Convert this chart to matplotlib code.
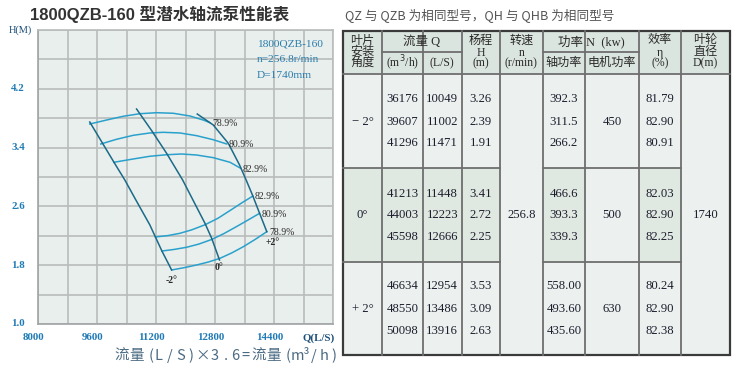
import numpy as np
import matplotlib
matplotlib.use('Agg')
import matplotlib.pyplot as plt
from matplotlib.patches import Rectangle

# ---- chart data ----
# H-Q curves for the three blade angles
hq_labels = ['-2°', '0°', '+2°']
hq_q = [
    [9404, 9730, 10056, 10355, 10654, 11034, 11184, 11360, 11624],
    [10673, 11089, 11488, 11923, 12230, 12528, 12710, 12922],
    [12319, 12754, 13161, 13466, 13656, 13827, 14009, 14205],
]
hq_h = [
    [3.748, 3.476, 3.204, 2.959, 2.687, 2.347, 2.184, 1.993, 1.735],
    [3.925, 3.626, 3.322, 2.959, 2.660, 2.370, 2.166, 1.871],
    [3.857, 3.707, 3.458, 3.163, 2.946, 2.741, 2.506, 2.256],
]
# iso-efficiency arcs
eff_labels = ['78.9%', '80.9%', '82.9%', '82.9%', '80.9%', '78.9%']
eff_q = [
    [9404, 9858, 10309, 10763, 11216, 11667, 12121, 12482, 12664],
    [9703, 10130, 10581, 11034, 11396, 11849, 12303, 12754, 13118],
    [10056, 10581, 11034, 11488, 11896, 12303, 12754, 13208, 13498],
    [11184, 11523, 11849, 12175, 12528, 12882, 13208, 13520, 13827],
    [11360, 11686, 12031, 12365, 12710, 13045, 13390, 13697, 14009],
    [11624, 11958, 12303, 12624, 12936, 13262, 13569, 13887, 14205],
]
eff_h = [
    [3.721, 3.775, 3.826, 3.861, 3.875, 3.867, 3.830, 3.775, 3.739],
    [3.449, 3.513, 3.567, 3.599, 3.608, 3.599, 3.562, 3.507, 3.449],
    [3.200, 3.245, 3.282, 3.303, 3.313, 3.299, 3.263, 3.200, 3.118],
    [2.184, 2.203, 2.234, 2.282, 2.350, 2.439, 2.544, 2.646, 2.741],
    [1.993, 2.014, 2.044, 2.088, 2.150, 2.231, 2.327, 2.415, 2.506],
    [1.735, 1.766, 1.803, 1.844, 1.894, 1.969, 2.052, 2.150, 2.256],
]
x_ticks = [8000, 9600, 11200, 12800, 14400]
y_ticks = [1.0, 1.8, 2.6, 3.4, 4.2]

# ---- table data ----
angles = ['− 2°', '0°', '+ 2°']
flow_m3h = [['36176', '39607', '41296'], ['41213', '44003', '45598'], ['46634', '48550', '50098']]
flow_ls = [['10049', '11002', '11471'], ['11448', '12223', '12666'], ['12954', '13486', '13916']]
head = [['3.26', '2.39', '1.91'], ['3.41', '2.72', '2.25'], ['3.53', '3.09', '2.63']]
speed = '256.8'
shaft_power = [['392.3', '311.5', '266.2'], ['466.6', '393.3', '339.3'], ['558.00', '493.60', '435.60']]
motor_power = ['450', '500', '630']
efficiency = [['81.79', '82.90', '80.91'], ['82.03', '82.90', '82.25'], ['80.24', '82.90', '82.38']]
diameter = '1740'

W, H = 746, 372
fig = plt.figure(figsize=(W / 100, H / 100), dpi=100)
fig.patch.set_facecolor('white')

serif = ['Liberation Serif', 'Noto Sans CJK SC']
cjk = ['Noto Sans CJK SC', 'DejaVu Sans']

def px(x0, y0, w, h):
    return [x0 / W, 1 - (y0 + h) / H, w / W, h / H]

# ---- performance chart ----
ax = fig.add_axes(px(38, 30, 295, 294))
ax.set_facecolor('#e9efed')
ax.set_xlim(8000, 16000)
ax.set_ylim(1.0, 5.0)
ax.set_xticks(np.arange(8000, 16001, 800))
ax.set_yticks(np.arange(1.0, 5.01, 0.4))
ax.tick_params(length=0, labelbottom=False, labelleft=False)
ax.grid(True, color='#b8bcbb', lw=1.2)
ax.set_axisbelow(True)
for s in ax.spines.values():
    s.set_color('#b8bcbb')
    s.set_linewidth(1.2)
ax.spines['left'].set_color('#a0a4a4')
ax.spines['bottom'].set_color('#a0a4a4')

for q, h in zip(eff_q, eff_h):
    ax.plot(q, h, color='#2aa1cc', lw=1.1, solid_joinstyle='round')
for q, h in zip(hq_q, hq_h):
    ax.plot(q, h, color='#1b6a88', lw=1.1, solid_joinstyle='round')

# efficiency labels at right end of each arc
for lab, q, h in zip(eff_labels, eff_q, eff_h):
    ax.annotate(lab, (q[-1], h[-1]), xytext=(1.5, -0.5), textcoords='offset points',
                ha='left', va='center', fontsize=7, family=serif, color='#2a2a2a')
# angle labels under the H-Q curves
for lab, q, h, off in zip(hq_labels, hq_q, hq_h, [(0, -7.5), (0, -5.5), (4, -8)]):
    ax.annotate(lab, (q[-1], h[-1]), xytext=off, textcoords='offset points',
                ha='center', va='center', fontsize=7, family=serif,
                color='#2a2a2a', fontweight='bold')

tick_col = '#1f7ab5'
for v in x_ticks:
    ax.annotate(f'{v}', (v, 0), xycoords=('data', 'axes fraction'), xytext=(-3, -10),
                textcoords='offset points', ha='center', va='center',
                fontsize=7.8, family=serif, color=tick_col, fontweight='bold')
ax.annotate('Q(L/S)', (16000, 0), xycoords=('data', 'axes fraction'), xytext=(-10, -10),
            textcoords='offset points', ha='center', va='center',
            fontsize=7.8, family=serif, color='#1d4f7a', fontweight='bold')
for v in y_ticks:
    ax.annotate(f'{v:.1f}', (0, v), xycoords=('axes fraction', 'data'), xytext=(-9.5, 0),
                textcoords='offset points', ha='right', va='center',
                fontsize=7.8, family=serif, color=tick_col, fontweight='bold')
ax.annotate('H(M)', (0, 5.0), xycoords=('axes fraction', 'data'), xytext=(-4, 0),
            textcoords='offset points', ha='right', va='center',
            fontsize=7.5, family=serif, color='#1d4f7a')

info = ['1800QZB-160', 'n=256.8r/min', 'D=1740mm']
for i, t in enumerate(info):
    fig.text(257 / W, 1 - (44 + 16 * i) / H, t, ha='left', va='center',
             fontsize=8.2, family=serif, color='#2a7cab')

fig.text(30 / W, 1 - 14 / H, '1800QZB-160 型潜水轴流泵性能表', ha='left', va='center',
         fontsize=12, fontweight='bold', family=['Liberation Sans', 'Noto Sans CJK SC'],
         color='#333333')
fig.text(345 / W, 1 - 15 / H, 'QZ 与 QZB 为相同型号，QH 与 QHB 为相同型号',
         ha='left', va='center', fontsize=9.1, family=cjk, color='#555555')

# bottom formula, one glyph at a time so the wide letter spacing matches
formula_chars = ['流', '量', '(', 'L', '/', 'S', ')', '×', '3', '.', '6', '=',
                 '流', '量', '(', 'm³', '/', 'h', ')']
formula_x = [121.5, 136.5, 151, 159, 170, 181, 191, 203, 215, 226, 235, 245,
             258.5, 273.5, 288, 300, 314, 324, 334]
for ch, x0 in zip(formula_chars, formula_x):
    fig.text(x0 / W, 1 - 356 / H, ch, ha='center', va='center', fontsize=10.5,
             family=cjk, color='#4a6a82')

# ---- table ----
tb = fig.add_axes([0, 0, 1, 1])
tb.set_xlim(0, W)
tb.set_ylim(H, 0)
tb.axis('off')

cols = [342.7, 382.3, 422.7, 461.7, 500, 542.7, 585, 639, 680.7, 730]
rows = [30.7, 74, 168.3, 261.7, 355]
sub_y = 51.7
cx = [(a + b) / 2 for a, b in zip(cols[:-1], cols[1:])]
row_y = [[99.3, 121.7, 143.3], [194, 215, 236.7], [286, 309, 331]]

light = '#ecf1ef'
head_fill = '#dbe5df'
shade = '#dfe8e1'
tb.add_patch(Rectangle((cols[0], rows[0]), cols[-1] - cols[0], rows[-1] - rows[0],
                       facecolor=light, edgecolor='none'))
tb.add_patch(Rectangle((cols[0], rows[0]), cols[-1] - cols[0], rows[1] - rows[0],
                       facecolor=head_fill, edgecolor='none'))
for c in [0, 1, 2, 3, 5, 7]:
    tb.add_patch(Rectangle((cols[c], rows[2]), cols[c + 1] - cols[c], rows[3] - rows[2],
                           facecolor=shade, edgecolor='none'))

lc = '#6e6e6e'
for x in cols[1:-1]:
    tb.plot([x, x], [rows[0], rows[-1]], color=lc, lw=1.3)
# sub header line under 流量 Q and 功率 N
tb.plot([cols[1], cols[3]], [sub_y, sub_y], color=lc, lw=1.3)
tb.plot([cols[5], cols[7]], [sub_y, sub_y], color=lc, lw=1.3)
tb.plot([cols[0], cols[-1]], [rows[1], rows[1]], color=lc, lw=1.3)
for y in rows[2:4]:
    tb.plot([cols[0], cols[4]], [y, y], color=lc, lw=1.3)
    tb.plot([cols[5], cols[8]], [y, y], color=lc, lw=1.3)
tb.add_patch(Rectangle((cols[0], rows[0]), cols[-1] - cols[0], rows[-1] - rows[0],
                       facecolor='none', edgecolor='#3a3a3a', lw=1.6))

hc = '#2b2b2b'
def htxt(x, y, s, size=8.7):
    tb.text(x, y, s, ha='center', va='center', fontsize=size, family=serif, color=hc)

for y, s in zip([40.5, 52, 63.5], ['叶片', '安装', '角度']):
    htxt(cx[0], y, s)
htxt((cols[1] + cols[3]) / 2, 41.5, '流量 Q', 9)
htxt(cx[1], 63, '(m$^3$/h)', 8.5)
htxt(cx[2], 63, '(L/S)', 8.5)
for y, s in zip([40.5, 53, 63.5], ['杨程', 'H', '(m)']):
    htxt(cx[3], y, s, 8.7 if y < 50 else 8.5)
for y, s in zip([40.5, 53, 63.5], ['转速', 'n', '(r/min)']):
    htxt(cx[4], y, s, 8.7 if y < 50 else 8.5)
htxt((cols[5] + cols[7]) / 2, 41.5, '功率 N  (kw)', 9)
htxt(cx[5], 63, '轴功率')
htxt(cx[6], 63, '电机功率')
for y, s in zip([40.5, 53, 63.5], ['效率', 'η', '(%)']):
    htxt(cx[7], y, s, 8.7 if y < 50 else 8.5)
for y, s in zip([40.5, 52, 63.5], ['叶轮', '直径', 'D(m)']):
    htxt(cx[8], y, s, 8.7 if y < 60 else 8.5)

dc = '#1e1e2e'
for g in range(3):
    ys = row_y[g]
    tb.text(cx[0], ys[1], angles[g], ha='center', va='center', fontsize=9.2,
            family=serif, color=dc)
    tb.text(cx[6], ys[1], motor_power[g], ha='center', va='center', fontsize=9.2,
            family=serif, color=dc)
    for r in range(3):
        for c, arr in [(1, flow_m3h), (2, flow_ls), (3, head), (5, shaft_power), (7, efficiency)]:
            tb.text(cx[c], ys[r], arr[g][r], ha='center', va='center', fontsize=9.2,
                    family=serif, color=dc)
tb.text(cx[4], row_y[1][1], speed, ha='center', va='center', fontsize=9.2, family=serif, color=dc)
tb.text(cx[8], row_y[1][1], diameter, ha='center', va='center', fontsize=9.2, family=serif, color=dc)

fig.savefig('out.png', dpi=100, facecolor='white')
